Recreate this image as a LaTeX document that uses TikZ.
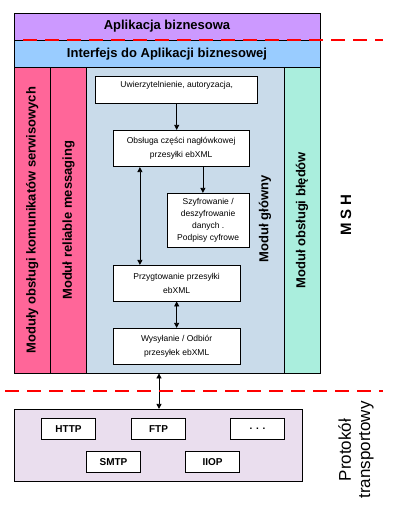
\documentclass[tikz,border=0pt]{standalone}
\usepackage{fontspec}
\setmainfont{Liberation Sans}
\usetikzlibrary{arrows.meta}

\definecolor{aplikc}{RGB}{204,153,255}
\definecolor{interfc}{RGB}{153,204,255}
\definecolor{rozowyc}{RGB}{255,102,153}
\definecolor{glownyc}{RGB}{201,219,234}
\definecolor{bledyc}{RGB}{170,238,221}
\definecolor{transpc}{RGB}{234,222,238}

\begin{document}
\begin{tikzpicture}
	[%
	x=1pt, y=-1pt,%
	bar/.style    ={rectangle,	draw=black,	line width=0.8pt,	inner sep=0pt,	minimum width=306pt,	font=\fontsize{13}{15}\selectfont\bfseries},%
	column/.style ={rectangle,	draw=black,	line width=0.8pt,	inner sep=0pt,	rotate=90,	minimum width=305.5pt,	minimum height=36pt,	font=\fontsize{13}{15}\selectfont\bfseries},%
	stage/.style  ={rectangle,	draw=black,	fill=white,	line width=0.8pt,	inner sep=0pt,	align=center,	font=\fontsize{8.5}{14}\selectfont},%
	proto/.style  ={rectangle,	draw=black,	fill=white,	line width=0.8pt,	inner sep=0pt,	minimum width=54.4pt,	minimum height=21pt,	font=\fontsize{10}{12}\selectfont\bfseries},%
	flow/.style   ={-{Triangle[length=5pt, width=5pt]},	line width=0.8pt},%
	twoway/.style ={{Triangle[length=5pt, width=5pt]}-{Triangle[length=5pt, width=5pt]},	line width=0.8pt},%
	divider/.style={red,	line width=2.4pt,	dash pattern=on 14pt off 8pt},%
	]

	\useasboundingbox (0,0) rectangle (405,511);

	\newcommand\colmid{220.25}

	% layers
	\node (aplik)	at (167,26.5)	[bar, fill=aplikc, minimum height=27pt] {Aplikacja biznesowa};
	\node (interf)	at (167,53.75)	[bar, fill=interfc, minimum height=27.5pt] {Interfejs do Aplikacji biznesowej};

	% columns
	\node (komun)	at (32.25,\colmid)	[column, fill=rozowyc, minimum height=36.5pt] {Moduły obsługi komunikatów serwisowych};
	\node (reliab)	at (68.5,\colmid)	[column, fill=rozowyc] {Moduł reliable messaging};
	\node (glowny)	at (185.25,\colmid)	[rectangle, draw=black, line width=0.8pt, fill=glownyc, minimum width=197.5pt, minimum height=305.5pt] {};
	\node (bledy)	at (302,\colmid)	[column, fill=bledyc] {Moduł obsługi błędów};
	\node (glownylbl)	at (265,219)	[rotate=90, font=\fontsize{13}{15}\selectfont\bfseries] {Moduł główny};

	% stages of the main module
	\node (auth)	at (176.7,90)	[stage, minimum width=162pt, minimum height=26.6pt, text height=5pt, text depth=9pt] {Uwierzytelnienie, autoryzacja,};
	\node (obsluga)	at (181.15,148.5)	[stage, minimum width=135.7pt, minimum height=36.4pt] {Obsługa części nagłówkowej\\ przesyłki ebXML};
	\node (szyfr)	at (208.15,220.3)	[stage, minimum width=81.7pt, minimum height=54pt, font=\fontsize{8.5}{11.7}\selectfont] {Szyfrowanie /\\ deszyfrowanie\\ danych .\\ Podpisy cyfrowe};
	\node (przyg)	at (176.65,283.15)	[stage, minimum width=126.7pt, minimum height=35.7pt] {Przygtowanie przesyłki\\ ebXML};
	\node (wysyl)	at (176.65,346.3)	[stage, minimum width=126.7pt, minimum height=36pt] {Wysyłanie / Odbiór\\ przesyłek ebXML};

	\node (mshlbl)	at (346,215)	[rotate=90, font=\fontsize{15}{17}\selectfont\bfseries] {M S H};

	% transport
	\node (transport)	at (158.3,445.15)	[rectangle, draw=black, line width=0.8pt, fill=transpc, minimum width=288pt, minimum height=71.7pt] {};
	\foreach \n/\x/\y/\t in {http/68.5/428.8/HTTP, ftp/158.5/428.8/FTP, more/257.5/428.8/{. . .}, smtp/113.5/461.8/SMTP, iiop/212.5/461.8/IIOP}
		\node (\n) at (\x,\y) [proto] {\t};
	\node (protlbl)	at (356,450)	[rotate=90, align=center, font=\fontsize{17}{19.5}\selectfont] {Protokół\\transportowy};

	% interconnections
	\draw [flow] (auth.south) -- (auth.south |- obsluga.north);
	\draw [flow] ([xshift=90pt]obsluga.south west) -- ([xshift=36pt]szyfr.north west);
	\draw [twoway] ([xshift=27pt]obsluga.south west) -- ([xshift=27pt]przyg.north west);
	\draw [twoway] (przyg.south) -- (wysyl.north);

	\coordinate (link) at (159,0);
	\draw [twoway] (glowny.south -| link) -- (transport.north -| link);

	% borders
	\draw [divider] (23,40) -- (383,40);
	\draw [divider] (5,391) -- (383,391);

\end{tikzpicture}
\end{document}
